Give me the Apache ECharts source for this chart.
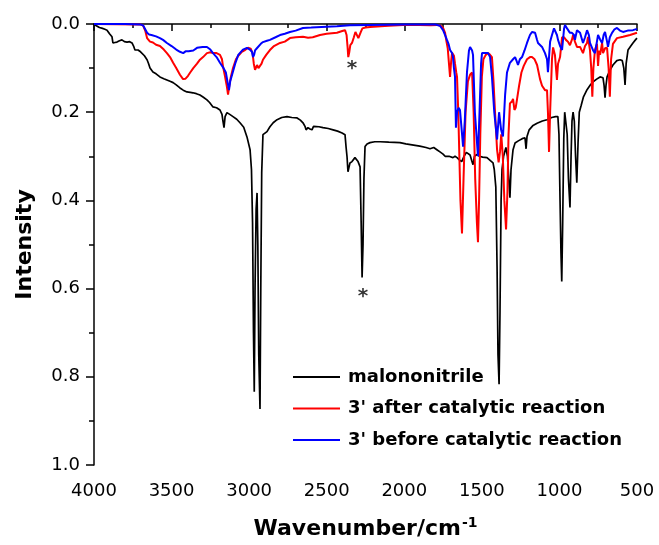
<!DOCTYPE html>
<html><head><meta charset="utf-8">
<script src="https://cdn.jsdelivr.net/npm/echarts@6/dist/echarts.min.js"></script>
<style>html,body{margin:0;padding:0;background:#fff}#c{width:659px;height:545px}</style>
</head><body><div id="c"></div>
<script>
const seriesNames = ['malononitrile', "3' after catalytic reaction", "3' before catalytic reaction"];
const seriesColors = ['#000000', '#ff0000', '#0000ff'];
const xAxisTitle = 'Wavenumber/cm';
const xAxisTitleSup = '-1';
const yAxisTitle = 'Intensity';

// [wavenumber (cm-1), intensity]
const malononitrile = [
[4000,0],[3985,0.004],[3965,0.008],[3945,0.01],[3930,0.012],[3916,0.014],[3900,0.022],[3884,0.029],[3878,0.043],[3865,0.042],[3852,0.041],[3836,0.038],[3820,0.036],[3804,0.04],[3787,0.041],[3770,0.04],[3755,0.043],[3745,0.05],[3736,0.059],[3716,0.059],[3700,0.063],[3690,0.066],[3675,0.072],[3658,0.081],[3648,0.09],[3639,0.1],[3620,0.109],[3600,0.113],[3575,0.12],[3550,0.124],[3530,0.127],[3510,0.13],[3490,0.133],[3470,0.138],[3446,0.145],[3425,0.15],[3401,0.154],[3380,0.155],[3362,0.156],[3340,0.158],[3317,0.161],[3295,0.166],[3272,0.172],[3255,0.178],[3233,0.188],[3210,0.19],[3188,0.195],[3175,0.205],[3168,0.222],[3162,0.235],[3155,0.21],[3143,0.201],[3125,0.205],[3104,0.21],[3080,0.216],[3059,0.224],[3035,0.234],[3014,0.256],[2994,0.285],[2985,0.33],[2978,0.45],[2972,0.7],[2967,0.834],[2962,0.6],[2955,0.42],[2949,0.383],[2944,0.5],[2938,0.75],[2930,0.873],[2925,0.6],[2919,0.337],[2911,0.251],[2885,0.244],[2866,0.233],[2845,0.224],[2820,0.217],[2790,0.212],[2756,0.21],[2725,0.212],[2691,0.213],[2670,0.218],[2653,0.224],[2640,0.232],[2633,0.24],[2621,0.235],[2608,0.238],[2595,0.24],[2585,0.232],[2575,0.229],[2550,0.233],[2524,0.235],[2490,0.237],[2459,0.24],[2430,0.243],[2401,0.247],[2382,0.251],[2375,0.28],[2369,0.301],[2363,0.335],[2350,0.315],[2337,0.312],[2318,0.303],[2298,0.312],[2285,0.324],[2278,0.45],[2272,0.575],[2266,0.5],[2260,0.35],[2253,0.278],[2240,0.272],[2221,0.269],[2190,0.267],[2156,0.267],[2100,0.268],[2028,0.269],[1990,0.272],[1950,0.274],[1900,0.277],[1860,0.28],[1834,0.283],[1810,0.28],[1790,0.285],[1770,0.29],[1750,0.295],[1737,0.3],[1725,0.296],[1712,0.3],[1700,0.297],[1686,0.303],[1673,0.3],[1660,0.303],[1645,0.308],[1630,0.312],[1615,0.3],[1600,0.291],[1590,0.293],[1576,0.297],[1565,0.31],[1557,0.319],[1548,0.3],[1531,0.296],[1515,0.3],[1495,0.302],[1467,0.303],[1445,0.31],[1428,0.315],[1420,0.33],[1410,0.37],[1402,0.55],[1396,0.75],[1389,0.817],[1383,0.65],[1376,0.4],[1370,0.33],[1360,0.3],[1345,0.28],[1335,0.3],[1325,0.36],[1319,0.394],[1312,0.33],[1299,0.285],[1286,0.27],[1265,0.265],[1240,0.26],[1222,0.258],[1215,0.283],[1209,0.255],[1195,0.24],[1170,0.23],[1144,0.225],[1110,0.22],[1080,0.217],[1050,0.212],[1025,0.21],[1010,0.21],[1003,0.25],[996,0.4],[990,0.52],[985,0.584],[979,0.45],[972,0.26],[966,0.2],[958,0.2],[950,0.25],[942,0.35],[932,0.416],[925,0.3],[919,0.22],[912,0.2],[904,0.22],[896,0.3],[888,0.36],[880,0.27],[872,0.2],[860,0.185],[845,0.165],[822,0.149],[800,0.138],[783,0.131],[760,0.125],[738,0.12],[719,0.122],[712,0.14],[706,0.167],[700,0.14],[693,0.12],[675,0.105],[655,0.093],[630,0.083],[609,0.081],[595,0.083],[585,0.1],[577,0.138],[570,0.09],[558,0.059],[540,0.05],[526,0.043],[510,0.036],[500,0.032]
];

const afterReaction = [
[4000,0],[3700,0.001],[3684,0.003],[3670,0.015],[3658,0.032],[3648,0.036],[3639,0.04],[3620,0.042],[3600,0.047],[3575,0.05],[3550,0.058],[3530,0.066],[3510,0.075],[3490,0.088],[3470,0.1],[3446,0.115],[3426,0.125],[3410,0.124],[3395,0.118],[3380,0.11],[3360,0.1],[3336,0.09],[3317,0.081],[3297,0.075],[3272,0.066],[3250,0.064],[3233,0.066],[3210,0.066],[3188,0.07],[3175,0.08],[3168,0.097],[3155,0.12],[3143,0.143],[3136,0.16],[3128,0.14],[3118,0.12],[3104,0.1],[3085,0.08],[3070,0.072],[3050,0.064],[3030,0.06],[3007,0.054],[2990,0.056],[2978,0.066],[2970,0.09],[2962,0.104],[2955,0.1],[2949,0.093],[2940,0.1],[2930,0.104],[2920,0.09],[2911,0.081],[2890,0.07],[2866,0.059],[2840,0.05],[2801,0.043],[2770,0.04],[2737,0.032],[2700,0.03],[2653,0.029],[2620,0.031],[2590,0.03],[2543,0.025],[2500,0.022],[2434,0.02],[2400,0.016],[2382,0.014],[2372,0.025],[2366,0.05],[2361,0.075],[2355,0.065],[2348,0.048],[2337,0.043],[2325,0.03],[2315,0.018],[2305,0.015],[2296,0.032],[2290,0.03],[2280,0.018],[2270,0.01],[2250,0.008],[2221,0.007],[2150,0.005],[2100,0.004],[2008,0.002],[1900,0.002],[1830,0.003],[1789,0.002],[1765,0.004],[1750,0.009],[1737,0.02],[1728,0.04],[1720,0.055],[1712,0.09],[1705,0.12],[1698,0.085],[1692,0.065],[1686,0.065],[1680,0.072],[1673,0.09],[1665,0.11],[1660,0.12],[1652,0.2],[1645,0.3],[1638,0.4],[1628,0.475],[1618,0.35],[1605,0.2],[1590,0.13],[1576,0.115],[1563,0.11],[1553,0.2],[1543,0.35],[1532,0.45],[1525,0.495],[1518,0.4],[1510,0.25],[1500,0.12],[1490,0.08],[1475,0.07],[1460,0.066],[1447,0.07],[1435,0.075],[1425,0.13],[1415,0.2],[1402,0.285],[1392,0.314],[1383,0.29],[1375,0.25],[1365,0.3],[1355,0.4],[1344,0.466],[1335,0.38],[1328,0.25],[1319,0.18],[1305,0.175],[1299,0.17],[1290,0.195],[1282,0.19],[1273,0.17],[1260,0.14],[1245,0.11],[1230,0.095],[1209,0.08],[1190,0.075],[1177,0.075],[1160,0.08],[1144,0.093],[1125,0.125],[1112,0.14],[1093,0.15],[1080,0.15],[1074,0.2],[1067,0.29],[1060,0.2],[1048,0.08],[1041,0.053],[1029,0.07],[1016,0.127],[1009,0.09],[996,0.075],[983,0.03],[970,0.03],[958,0.036],[945,0.04],[932,0.048],[919,0.035],[912,0.025],[900,0.04],[887,0.052],[867,0.052],[848,0.066],[835,0.05],[822,0.043],[816,0.029],[803,0.06],[795,0.1],[788,0.165],[781,0.1],[771,0.059],[758,0.045],[751,0.095],[744,0.06],[738,0.07],[725,0.043],[719,0.066],[706,0.055],[693,0.054],[683,0.1],[675,0.165],[667,0.08],[655,0.045],[629,0.032],[590,0.029],[545,0.025],[500,0.02]
];

const beforeReaction = [
[4000,0],[3800,0],[3700,0.001],[3684,0.003],[3670,0.012],[3658,0.02],[3645,0.024],[3630,0.025],[3620,0.025],[3600,0.028],[3575,0.032],[3555,0.036],[3530,0.043],[3500,0.05],[3470,0.058],[3446,0.063],[3425,0.066],[3410,0.062],[3401,0.059],[3390,0.062],[3381,0.066],[3360,0.06],[3336,0.054],[3300,0.052],[3272,0.052],[3250,0.058],[3233,0.066],[3210,0.075],[3188,0.088],[3165,0.1],[3150,0.11],[3140,0.13],[3130,0.15],[3122,0.13],[3110,0.115],[3090,0.09],[3070,0.07],[3059,0.066],[3040,0.058],[3014,0.054],[2995,0.058],[2982,0.063],[2975,0.075],[2968,0.07],[2962,0.06],[2950,0.055],[2943,0.052],[2925,0.045],[2911,0.041],[2885,0.038],[2866,0.036],[2830,0.03],[2801,0.025],[2770,0.022],[2737,0.018],[2700,0.015],[2653,0.009],[2600,0.008],[2500,0.006],[2434,0.005],[2350,0.003],[2221,0.002],[2000,0.001],[1800,0.001],[1770,0.004],[1750,0.014],[1737,0.025],[1725,0.036],[1715,0.045],[1705,0.059],[1692,0.066],[1686,0.075],[1680,0.1],[1673,0.12],[1667,0.235],[1660,0.2],[1650,0.19],[1641,0.195],[1630,0.24],[1621,0.278],[1610,0.22],[1596,0.11],[1583,0.06],[1576,0.052],[1563,0.06],[1557,0.07],[1545,0.2],[1531,0.27],[1525,0.3],[1515,0.2],[1505,0.09],[1499,0.066],[1480,0.066],[1460,0.066],[1447,0.075],[1435,0.12],[1420,0.2],[1402,0.262],[1389,0.2],[1376,0.24],[1364,0.255],[1350,0.16],[1338,0.11],[1319,0.088],[1299,0.08],[1286,0.075],[1275,0.085],[1267,0.093],[1255,0.08],[1241,0.075],[1225,0.06],[1209,0.043],[1190,0.025],[1177,0.018],[1157,0.02],[1145,0.035],[1138,0.043],[1112,0.052],[1093,0.066],[1080,0.08],[1074,0.109],[1060,0.04],[1048,0.025],[1035,0.01],[1029,0.009],[1016,0.025],[1009,0.036],[996,0.05],[983,0.059],[970,0.01],[964,0.002],[951,0.01],[945,0.014],[932,0.02],[919,0.02],[906,0.025],[900,0.036],[887,0.014],[867,0.02],[848,0.043],[835,0.03],[822,0.014],[810,0.025],[803,0.043],[783,0.06],[771,0.066],[751,0.025],[738,0.035],[725,0.043],[715,0.025],[706,0.018],[693,0.04],[687,0.052],[675,0.03],[661,0.02],[645,0.012],[629,0.009],[610,0.015],[590,0.018],[560,0.015],[526,0.014],[500,0.011]
];

// asterisk annotations [wavenumber, intensity]
const asterisks = [[2337,0.097],[2266,0.613]];

const FONT = 'DejaVu Sans';
const chart = echarts.init(document.getElementById('c'), null, {renderer: 'canvas'});
const lineSeries = [malononitrile, afterReaction, beforeReaction].map((d, i) => ({
  name: seriesNames[i], type: 'line', data: d, showSymbol: false, symbol: 'none',
  lineStyle: {color: seriesColors[i], width: i === 0 ? 1.7 : 2}, itemStyle: {color: seriesColors[i]},
  z: 2 + i, animation: false
}));
lineSeries.push({
  type: 'scatter', data: asterisks, symbolSize: 0, silent: true, z: 10, animation: false,
  label: {show: true, position: 'inside', formatter: '*', color: '#000', fontFamily: FONT, fontWeight: 'bold', fontSize: 20, offset: [0, 2]}
});

chart.setOption({
  backgroundColor: '#fff',
  animation: false,
  grid: {left: 94, right: 22, top: 24, bottom: 79},
  legend: {
    show: true, orient: 'vertical', left: 288, top: 363, itemGap: 13.5,
    itemWidth: 47, itemHeight: 2, icon: 'rect',
    data: seriesNames,
    textStyle: {fontFamily: FONT, fontWeight: 'bold', fontSize: 18, color: '#000', padding: [0,0,0,3], lineHeight: 18}
  },
  xAxis: {
    type: 'value', inverse: true, min: 500, max: 4000, interval: 500,
    name: '{a|' + xAxisTitle + '}{s|' + xAxisTitleSup + '}', nameLocation: 'middle', nameGap: 51,
    nameTextStyle: {rich: {
      a: {fontFamily: FONT, fontWeight: 'bold', fontSize: 22, color: '#000'},
      s: {fontFamily: FONT, fontWeight: 'bold', fontSize: 14, color: '#000', verticalAlign: 'top', padding: [0,0,12,1]}
    }},
    axisLine: {lineStyle: {color: '#000', width: 1.5}},
    axisTick: {show: true, inside: false, length: 7, lineStyle: {color: '#000', width: 1.5}},
    minorTick: {show: true, splitNumber: 2, length: 4, lineStyle: {color: '#000', width: 1.5}},
    splitLine: {show: false},
    axisLabel: {fontFamily: FONT, fontSize: 18, color: '#000', margin: 17, showMinLabel: true, showMaxLabel: true, formatter: v => String(v)}
  },
  yAxis: {
    type: 'value', inverse: true, min: 0, max: 1, interval: 0.2,
    name: yAxisTitle, nameLocation: 'middle', nameGap: 58, nameRotate: 90,
    nameTextStyle: {fontFamily: FONT, fontWeight: 'bold', fontSize: 22, color: '#000'},
    axisLine: {show: true, lineStyle: {color: '#000', width: 1.5}},
    axisTick: {show: true, inside: false, length: 8, lineStyle: {color: '#000', width: 1.5}},
    minorTick: {show: true, splitNumber: 2, length: 5, lineStyle: {color: '#000', width: 1.5}},
    splitLine: {show: false},
    axisLabel: {fontFamily: FONT, fontSize: 18, color: '#000', margin: 14, formatter: v => v.toFixed(1)}
  },
  series: lineSeries
});
</script></body></html>
